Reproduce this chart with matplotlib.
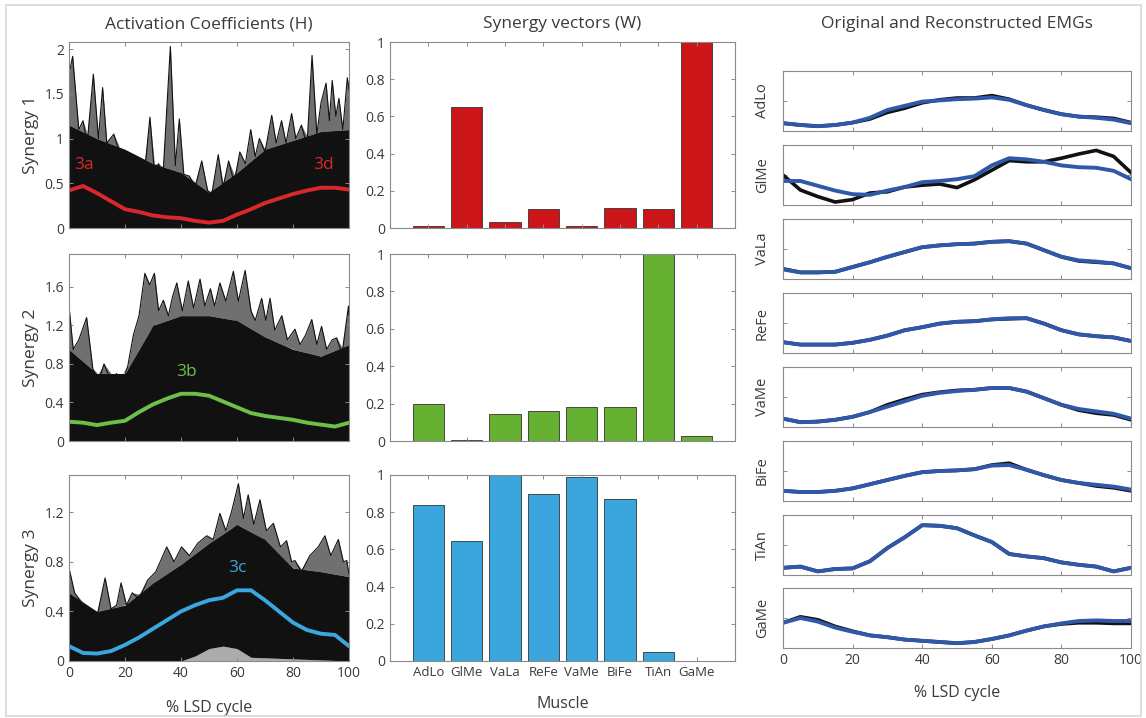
import matplotlib
matplotlib.use("Agg")
import matplotlib.pyplot as plt
from matplotlib.ticker import FuncFormatter
from matplotlib.patches import Rectangle
import numpy as np

plt.rcParams['font.family'] = ['Open Sans', 'DejaVu Sans']

# ---------------- data ----------------
cycle5 = list(range(0, 101, 5))
cycle10 = list(range(0, 101, 10))
muscles = ['AdLo', 'GlMe', 'VaLa', 'ReFe', 'VaMe', 'BiFe', 'TiAn', 'GaMe']

# synergy vectors (W)
W1 = [0.01, 0.65, 0.03, 0.10, 0.01, 0.11, 0.10, 1.00]
W2 = [0.20, 0.005, 0.145, 0.16, 0.18, 0.18, 1.00, 0.025]
W3 = [0.84, 0.645, 1.00, 0.90, 0.99, 0.87, 0.05, 0.0]

# activation coefficient means (H)
H1_mean = [0.42, 0.47, 0.39, 0.30, 0.21, 0.18, 0.14, 0.12, 0.11, 0.08, 0.06,
           0.08, 0.15, 0.21, 0.28, 0.33, 0.38, 0.42, 0.45, 0.45, 0.43]
H2_mean = [0.20, 0.19, 0.165, 0.19, 0.21, 0.30, 0.38, 0.44, 0.49, 0.49, 0.47,
           0.41, 0.35, 0.29, 0.26, 0.24, 0.22, 0.19, 0.17, 0.15, 0.19]
H3_mean = [0.12, 0.065, 0.06, 0.08, 0.13, 0.19, 0.26, 0.33, 0.40, 0.45, 0.49,
           0.51, 0.57, 0.57, 0.49, 0.40, 0.31, 0.25, 0.22, 0.21, 0.12]

# dense (solid black) band of individual trials, sampled every 10 %
H1_dense = [1.15, 1.00, 0.88, 0.72, 0.62, 0.40, 0.62, 0.88, 0.98, 1.08, 1.10]
H2_dense = [0.95, 0.70, 0.70, 1.20, 1.30, 1.30, 1.25, 1.08, 0.95, 0.88, 1.00]
H3_dense = [0.55, 0.40, 0.45, 0.63, 0.78, 0.95, 1.10, 0.98, 0.75, 0.72, 0.68]
H3_low_x = [0, 40, 45, 50, 55, 60, 65, 100]
H3_low = [0, 0, 0.04, 0.10, 0.12, 0.10, 0.03, 0]

# outer outline of the individual-trial traces (peaks and valleys)
H1_outline = [(0, 1.72), (1.3, 1.92), (3.5, 1.10), (5, 1.20), (6.5, 0.95), (8.7, 1.72),
              (10.5, 1.00), (12, 1.57), (13.5, 0.95), (16, 1.05), (18, 0.85), (21, 0.80),
              (23, 0.68), (25, 0.72), (27, 0.62), (28.9, 1.24), (30.5, 0.62), (32, 0.72),
              (33.5, 0.55), (36.2, 2.03), (38, 0.70), (39.4, 1.22), (41, 0.60), (43, 0.58),
              (45, 0.45), (47.4, 0.75), (49.5, 0.42), (51, 0.38), (53.3, 0.82), (55, 0.45),
              (57, 0.75), (59, 0.50), (61, 0.85), (63, 0.72), (64.9, 1.10), (66.5, 0.80),
              (68, 1.00), (70, 0.85), (72.4, 1.26), (74, 0.95), (75.9, 1.20), (77.5, 0.95),
              (79.5, 1.28), (81, 1.00), (83, 1.15), (85, 0.92), (86.8, 1.93), (88.5, 1.05),
              (90, 1.40), (91.8, 1.62), (93, 1.20), (94, 1.65), (95.3, 1.25), (96.4, 1.45),
              (97.8, 1.10), (99.4, 1.68), (100, 1.55)]
H2_outline = [(0, 1.40), (1.5, 0.95), (3.5, 1.05), (6.3, 1.28), (8.5, 0.75), (10.5, 0.62),
              (12.5, 0.80), (15, 0.62), (17, 0.70), (19, 0.60), (21, 0.78), (23, 1.10),
              (25, 1.30), (27.1, 1.74), (28.8, 1.62), (30.5, 1.74), (32, 1.35), (33.7, 1.46),
              (35.5, 1.30), (37, 1.50), (38.5, 1.64), (40.5, 1.35), (42.6, 1.66), (44.5, 1.38),
              (46.8, 1.68), (48.5, 1.40), (50.5, 1.58), (52, 1.40), (53.9, 1.64), (56, 1.45),
              (58.7, 1.76), (60.5, 1.45), (62.9, 1.77), (65, 1.35), (66.5, 1.25), (68.8, 1.48),
              (70.3, 1.25), (71.8, 1.48), (73.5, 1.15), (76, 1.30), (78, 1.05), (80.7, 1.16),
              (82.5, 1.00), (84.5, 1.10), (86.7, 1.26), (88.5, 1.00), (90.2, 1.19), (92, 0.95),
              (94, 1.05), (95.6, 1.07), (97.5, 0.90), (99.8, 1.40), (100, 1.30)]
H3_outline = [(0, 0.75), (2, 0.55), (5, 0.45), (8, 0.38), (10, 0.36), (12.9, 0.67),
              (15, 0.42), (17, 0.45), (18.6, 0.63), (20.5, 0.45), (22.6, 0.55), (25, 0.50),
              (28, 0.65), (31, 0.72), (34.9, 0.92), (37.5, 0.80), (40.2, 0.92), (43, 0.85),
              (46, 0.95), (49.2, 1.01), (51.5, 0.98), (53.9, 1.19), (56, 1.05), (58, 1.20),
              (60.5, 1.43), (62.3, 1.15), (64, 1.34), (66, 1.10), (68.2, 1.30), (70.5, 1.05),
              (73, 1.11), (75.5, 0.92), (77.7, 0.97), (79.5, 0.80), (80.7, 0.81), (83, 0.72),
              (86, 0.85), (89, 0.92), (91.4, 1.01), (93.5, 0.85), (96.2, 0.98), (98, 0.80),
              (99.2, 0.81), (100, 0.70)]

# original (black) and reconstructed (blue) EMGs, every 5 % of the cycle
EMG_orig = {
    'AdLo': [0.13, 0.10, 0.08, 0.10, 0.14, 0.20, 0.31, 0.38, 0.47, 0.52, 0.55,
             0.55, 0.59, 0.53, 0.43, 0.35, 0.28, 0.24, 0.23, 0.21, 0.14],
    'GlMe': [0.50, 0.25, 0.14, 0.05, 0.09, 0.20, 0.22, 0.30, 0.33, 0.35, 0.29,
             0.42, 0.58, 0.74, 0.72, 0.72, 0.78, 0.85, 0.91, 0.81, 0.54],
    'VaLa': [0.17, 0.11, 0.11, 0.12, 0.20, 0.28, 0.37, 0.45, 0.53, 0.56, 0.58,
             0.59, 0.62, 0.63, 0.59, 0.48, 0.37, 0.30, 0.28, 0.26, 0.18],
    'ReFe': [0.18, 0.14, 0.14, 0.14, 0.17, 0.22, 0.29, 0.38, 0.43, 0.49, 0.52,
             0.53, 0.56, 0.57, 0.58, 0.49, 0.38, 0.31, 0.28, 0.26, 0.20],
    'VaMe': [0.14, 0.08, 0.09, 0.12, 0.17, 0.25, 0.37, 0.46, 0.54, 0.58, 0.61,
             0.62, 0.65, 0.65, 0.59, 0.48, 0.37, 0.28, 0.23, 0.20, 0.12],
    'BiFe': [0.17, 0.15, 0.15, 0.17, 0.21, 0.28, 0.35, 0.42, 0.48, 0.50, 0.51,
             0.53, 0.60, 0.63, 0.52, 0.43, 0.35, 0.30, 0.25, 0.22, 0.17],
    'TiAn': [0.12, 0.14, 0.06, 0.10, 0.11, 0.23, 0.45, 0.63, 0.83, 0.82, 0.78,
             0.66, 0.55, 0.35, 0.31, 0.28, 0.21, 0.17, 0.14, 0.06, 0.12],
    'GaMe': [0.42, 0.52, 0.47, 0.36, 0.28, 0.21, 0.18, 0.14, 0.12, 0.10, 0.08,
             0.10, 0.15, 0.21, 0.29, 0.36, 0.40, 0.42, 0.42, 0.41, 0.41],
}
EMG_recon = {
    'AdLo': [0.13, 0.10, 0.08, 0.10, 0.14, 0.22, 0.35, 0.42, 0.49, 0.51, 0.53,
             0.54, 0.56, 0.52, 0.43, 0.35, 0.28, 0.24, 0.22, 0.19, 0.13],
    'GlMe': [0.40, 0.40, 0.32, 0.24, 0.18, 0.17, 0.24, 0.30, 0.38, 0.40, 0.43,
             0.48, 0.66, 0.78, 0.76, 0.72, 0.66, 0.63, 0.62, 0.57, 0.43],
    'VaLa': [0.16, 0.11, 0.11, 0.12, 0.20, 0.28, 0.37, 0.45, 0.53, 0.56, 0.58,
             0.59, 0.62, 0.63, 0.59, 0.48, 0.37, 0.31, 0.29, 0.26, 0.18],
    'ReFe': [0.18, 0.14, 0.14, 0.14, 0.17, 0.22, 0.29, 0.38, 0.43, 0.49, 0.52,
             0.53, 0.56, 0.58, 0.58, 0.49, 0.38, 0.31, 0.28, 0.26, 0.20],
    'VaMe': [0.14, 0.08, 0.09, 0.12, 0.17, 0.25, 0.34, 0.43, 0.52, 0.57, 0.60,
             0.62, 0.65, 0.65, 0.59, 0.48, 0.37, 0.30, 0.26, 0.22, 0.14],
    'BiFe': [0.17, 0.15, 0.15, 0.17, 0.21, 0.28, 0.35, 0.42, 0.48, 0.50, 0.51,
             0.53, 0.59, 0.60, 0.52, 0.43, 0.35, 0.30, 0.27, 0.24, 0.19],
    'TiAn': [0.12, 0.14, 0.06, 0.10, 0.11, 0.23, 0.45, 0.63, 0.83, 0.82, 0.78,
             0.66, 0.55, 0.35, 0.31, 0.28, 0.21, 0.17, 0.14, 0.06, 0.12],
    'GaMe': [0.42, 0.50, 0.44, 0.34, 0.27, 0.21, 0.18, 0.14, 0.12, 0.10, 0.08,
             0.10, 0.15, 0.21, 0.29, 0.36, 0.41, 0.45, 0.46, 0.45, 0.45],
}

# ---------------- style ----------------
RED, RED_BAR = '#d9282c', '#cc1519'
GREEN, GREEN_BAR = '#6cc04a', '#66b032'
BLUE, BLUE_BAR = '#3aa8de', '#3aa6dd'
EMG_BLUE = '#2f58a8'
TXT = '#3a3a3a'
SPINE = '#8a8a8a'
INK = '#111111'

fmt = FuncFormatter(lambda v, p: ('%g' % round(v, 3)))

fig = plt.figure(figsize=(11.46, 7.18), dpi=100)
W_PX, H_PX = 1146, 718


def px_axes(x0, y0, x1, y1):
    return fig.add_axes([x0 / W_PX, 1 - y1 / H_PX, (x1 - x0) / W_PX, (y1 - y0) / H_PX])


def style(ax):
    for s in ax.spines.values():
        s.set_color(SPINE)
        s.set_linewidth(0.8)
    ax.tick_params(direction='in', length=3, width=0.7, colors=SPINE,
                   labelcolor=TXT, labelsize=10, top=True, right=True)


# outer frame
fig.patches.append(Rectangle((6 / W_PX, 2 / H_PX), (1141 - 6) / W_PX, (713 - 2) / H_PX,
                             transform=fig.transFigure, fill=False,
                             edgecolor='#d8d8d8', linewidth=1.2))

rows = [(42, 228), (254, 441), (475, 661)]

# ---------------- left: activation coefficients ----------------
H_sets = [
    (H1_mean, H1_dense, H1_outline, RED, (0, 2.08), [0, 0.5, 1, 1.5, 2], [('3a', 5.5, 0.70), ('3d', 91, 0.70)]),
    (H2_mean, H2_dense, H2_outline, GREEN, (0, 1.94), [0, 0.4, 0.8, 1.2, 1.6], [('3b', 42, 0.72)]),
    (H3_mean, H3_dense, H3_outline, BLUE, (0, 1.50), [0, 0.4, 0.8, 1.2], [('3c', 60, 0.75)]),
]
for i, (mean, dense, outline, col, ylim, yt, labels) in enumerate(H_sets):
    y0, y1 = rows[i]
    ax = px_axes(69, y0, 349, y1)
    style(ax)
    ox = np.array([p[0] for p in outline])
    oy = np.array([p[1] for p in outline])
    dense_o = np.interp(ox, cycle10, dense)
    # sparse traces region: dark shading under the outline
    ax.fill_between(ox, dense_o, np.maximum(oy, dense_o), color=INK, alpha=0.6, lw=0)
    if i == 2:
        low = np.interp(cycle5, H3_low_x, H3_low)
        dense5 = np.interp(cycle5, cycle10, dense)
        ax.fill_between(cycle5, 0, low, color=INK, alpha=0.35, lw=0)
        ax.fill_between(cycle5, low, dense5, color=INK, lw=0)
    else:
        ax.fill_between(cycle10, 0, dense, color=INK, lw=0)
    ax.plot(ox, oy, color=INK, lw=0.8)
    ax.plot(cycle5, mean, color=col, lw=2.8, solid_capstyle='round')
    for txt, tx, ty in labels:
        ax.text(tx, ty, txt, color=col, fontsize=12.5, ha='center', va='center')
    ax.set_xlim(0, 100)
    ax.set_ylim(*ylim)
    ax.set_yticks(yt)
    ax.yaxis.set_major_formatter(fmt)
    ax.set_xticks(range(0, 101, 20))
    ax.set_ylabel('Synergy %d' % (i + 1), fontsize=12.5, color=TXT, labelpad=4)
    if i < 2:
        ax.set_xticklabels([])
    else:
        ax.set_xlabel('% LSD cycle', fontsize=11.5, color=TXT, labelpad=14)
    if i == 0:
        ax.set_title('Activation Coefficients (H)', fontsize=12.5, color=TXT, pad=10)

# ---------------- middle: synergy vectors ----------------
W_sets = [(W1, RED_BAR), (W2, GREEN_BAR), (W3, BLUE_BAR)]
pos = np.arange(1, len(muscles) + 1)
for i, (w, col) in enumerate(W_sets):
    y0, y1 = rows[i]
    ax = px_axes(390, y0, 735, y1)
    style(ax)
    ax.bar(pos, w, width=0.82, color=col, edgecolor='#333333', linewidth=0.6)
    ax.set_xlim(0, 9)
    ax.set_ylim(0, 1)
    ax.set_yticks([0, 0.2, 0.4, 0.6, 0.8, 1])
    ax.yaxis.set_major_formatter(fmt)
    ax.set_xticks(pos)
    if i < 2:
        ax.set_xticklabels([])
    else:
        ax.set_xticklabels(muscles, fontsize=9.5)
        ax.set_xlabel('Muscle', fontsize=11.5, color=TXT, labelpad=12)
    if i == 0:
        ax.set_title('Synergy vectors (W)', fontsize=12.5, color=TXT, pad=10)

# ---------------- right: original and reconstructed EMGs ----------------
tops = [71, 145, 219, 293, 367, 441, 515, 588]
for k, m in enumerate(muscles):
    t = tops[k]
    ax = px_axes(783, t, 1131, t + 60)
    style(ax)
    ax.plot(cycle5, EMG_orig[m], color=INK, lw=2.6)
    ax.plot(cycle5, EMG_recon[m], color=EMG_BLUE, lw=2.8)
    ax.set_xlim(0, 100)
    ax.set_ylim(0, 1)
    ax.set_yticks([0.5])
    ax.set_yticklabels([])
    ax.set_xticks(range(0, 101, 20))
    ax.set_ylabel(m, fontsize=10.5, color=TXT, labelpad=6)
    if k < len(muscles) - 1:
        ax.set_xticklabels([])
    else:
        ax.set_xlabel('% LSD cycle', fontsize=11.5, color=TXT, labelpad=12)
    if k == 0:
        ax.text(0.5, 1.0 + 47 / 60, 'Original and Reconstructed EMGs', transform=ax.transAxes,
                ha='center', va='center', fontsize=12.5, color=TXT)

fig.savefig('out.png', dpi=100)
